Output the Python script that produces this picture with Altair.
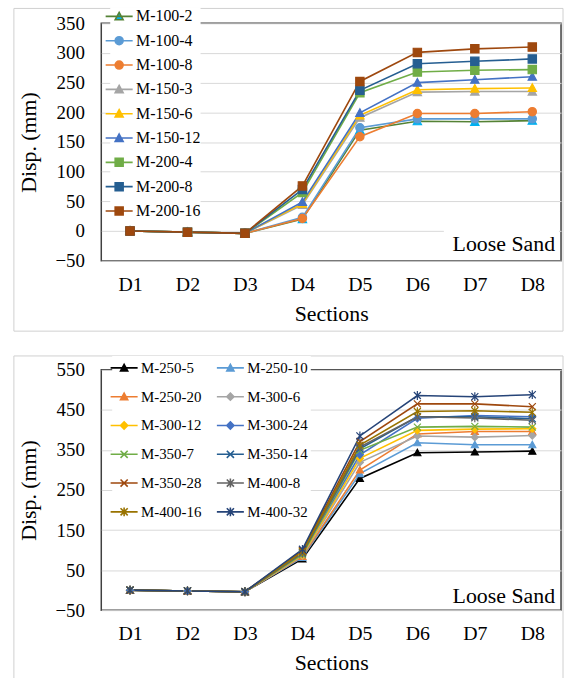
import altair as alt
import pandas as pd

sections = ["D1", "D2", "D3", "D4", "D5", "D6", "D7", "D8"]

# ---------------- top panel data ----------------
top_names = ["M-100-2", "M-100-4", "M-100-8", "M-150-3", "M-150-6",
             "M-150-12", "M-200-4", "M-200-8", "M-200-16"]
m100_2 = [0, -2, -4, 20, 170, 185, 184, 186]
m100_4 = [0, -2, -4, 23, 174, 189, 189, 189]
m100_8 = [0, -2, -4, 21, 159, 198, 198, 201]
m150_3 = [0, -2, -4, 44, 191, 234, 235, 235]
m150_6 = [0, -2, -4, 46, 195, 238, 240, 241]
m150_12 = [0, -2, -4, 49, 199, 250, 255, 260]
m200_4 = [0, -2, -4, 65, 233, 268, 271, 272]
m200_8 = [0, -2, -4, 70, 237, 282, 286, 290]
m200_16 = [0, -2, -4, 76, 252, 301, 307, 310]
top_values = [m100_2, m100_4, m100_8, m150_3, m150_6, m150_12, m200_4, m200_8, m200_16]
top_line_colors = ["#548235", "#5B9BD5", "#ED7D31", "#A5A5A5", "#FFC000",
                   "#4472C4", "#70AD47", "#255E91", "#9E480E"]
top_marker_colors = ["#00B0F0", "#5B9BD5", "#ED7D31", "#A5A5A5", "#FFC000",
                     "#4472C4", "#70AD47", "#255E91", "#9E480E"]
top_kinds = ["tri", "circ", "circ", "tri", "tri", "tri", "sq", "sq", "sq"]
top_ticks = [-50, 0, 50, 100, 150, 200, 250, 300, 350]

# ---------------- bottom panel data ----------------
bot_names = ["M-250-5", "M-250-10", "M-250-20", "M-300-6", "M-300-12", "M-300-24",
             "M-350-7", "M-350-14", "M-350-28", "M-400-8", "M-400-16", "M-400-32"]
m250_5 = [0, -2, -4, 78, 279, 343, 345, 347]
m250_10 = [0, -2, -4, 82, 291, 368, 363, 363]
m250_20 = [0, -2, -4, 84, 300, 390, 396, 396]
m300_6 = [0, -2, -4, 86, 319, 385, 382, 386]
m300_12 = [0, -2, -4, 88, 329, 399, 402, 403]
m300_24 = [0, -2, -4, 92, 338, 429, 436, 433]
m350_7 = [0, -2, -4, 89, 349, 407, 409, 407]
m350_14 = [0, -2, -4, 94, 353, 433, 433, 428]
m350_28 = [0, -2, -4, 99, 371, 465, 465, 458]
m400_8 = [0, -2, -4, 92, 357, 433, 430, 424]
m400_16 = [0, -2, -4, 96, 362, 446, 448, 444]
m400_32 = [0, -2, -4, 102, 385, 486, 483, 488]
bot_values = [m250_5, m250_10, m250_20, m300_6, m300_12, m300_24,
              m350_7, m350_14, m350_28, m400_8, m400_16, m400_32]
bot_colors = ["#000000", "#5B9BD5", "#ED7D31", "#A5A5A5", "#FFC000", "#4472C4",
              "#70AD47", "#255E91", "#9E480E", "#636363", "#997300", "#264478"]
bot_kinds = ["tri", "tri", "tri", "dia", "dia", "dia", "x", "x", "x", "star", "star", "star"]
bot_ticks = [-50, 50, 150, 250, 350, 450, 550]

FONT = "'Liberation Serif', 'Times New Roman', serif"


def marker_path(kind, s):
    if kind == "tri":
        return f"M0,{-s:.3f}L{s:.3f},{0.85*s:.3f}L{-s:.3f},{0.85*s:.3f}Z"
    if kind == "sq":
        return f"M{-s:.3f},{-s:.3f}L{s:.3f},{-s:.3f}L{s:.3f},{s:.3f}L{-s:.3f},{s:.3f}Z"
    if kind == "circ":
        return f"M{s:.3f},0A{s:.3f},{s:.3f},0,1,1,{-s:.3f},0A{s:.3f},{s:.3f},0,1,1,{s:.3f},0Z"
    if kind == "dia":
        return f"M0,{-s:.3f}L{s:.3f},0L0,{s:.3f}L{-s:.3f},0Z"
    if kind == "x":
        return f"M{-s:.3f},{-s:.3f}L{s:.3f},{s:.3f}M{-s:.3f},{s:.3f}L{s:.3f},{-s:.3f}"
    # star: x plus vertical bar
    return (f"M{-s:.3f},{-s:.3f}L{s:.3f},{s:.3f}M{-s:.3f},{s:.3f}L{s:.3f},{-s:.3f}"
            f"M0,{-1.25*s:.3f}L0,{1.25*s:.3f}")


def legend_path(kind, s):
    return "M-1.7,0L1.7,0" + marker_path(kind, s)


def panel(names, values, line_colors, marker_colors, kinds, ydom, yticks, w, h,
          marker_size, legend, legend_s, frame, text_xy, cover):
    rows = []
    for n, vals in zip(names, values):
        for sec, v in zip(sections, vals):
            rows.append({"series": n, "section": sec, "disp": v})
    df = pd.DataFrame(rows)
    one = pd.DataFrame({"a": [0]})

    x = alt.X("section:N", sort=sections, title="Sections",
              axis=alt.Axis(labelAngle=0, labelFont=FONT, titleFont=FONT,
                            labelFontSize=20, titleFontSize=22,
                            labelColor="black", titleColor="black", titleFontWeight="normal",
                            ticks=False, domain=False, grid=False,
                            labelPadding=14, titlePadding=9))
    y = alt.Y("disp:Q", title="Disp. (mm)",
              scale=alt.Scale(domain=ydom, nice=False, zero=False),
              axis=alt.Axis(values=yticks, labelFont=FONT, titleFont=FONT,
                            labelFontSize=19, titleFontSize=22,
                            labelColor="black", titleColor="black", titleFontWeight="normal",
                            ticks=False, domain=False, grid=True,
                            gridColor="#D9D9D9", gridWidth=1,
                            labelPadding=17, titlePadding=15))

    frame_l = alt.Chart(one).mark_rect(fillOpacity=0, stroke="#D0D0D0", strokeWidth=1).encode(
        x=alt.value(frame[0]), x2=alt.value(frame[1]),
        y=alt.value(frame[2]), y2=alt.value(frame[3]))

    base = alt.Chart(df)
    lines = base.mark_line(strokeWidth=1.6).encode(
        x=x, y=y,
        color=alt.Color("series:N", scale=alt.Scale(domain=names, range=line_colors), legend=None))
    points = base.mark_point(filled=True, size=marker_size, strokeWidth=1.2, opacity=1).encode(
        x=x, y=y,
        fill=alt.Fill("series:N", scale=alt.Scale(domain=names, range=marker_colors), legend=None),
        stroke=alt.Stroke("series:N", scale=alt.Scale(domain=names, range=marker_colors), legend=None),
        shape=alt.Shape("series:N", scale=alt.Scale(domain=names, range=[marker_path(k, 1) for k in kinds]),
                        legend=None))

    layers = [frame_l, lines, points]
    if cover is not None:
        layers.append(alt.Chart(one).mark_rect(fill="white").encode(
            x=alt.value(cover[0]), x2=alt.value(cover[1]),
            y=alt.value(cover[2]), y2=alt.value(cover[3])))
    layers.append(alt.Chart(one).mark_text(font=FONT, fontSize=22,
                                           align="right", baseline="middle", color="black").encode(
        x=alt.value(text_xy[0]), y=alt.value(text_xy[1]), text=alt.value("Loose Sand")))

    leg = base.transform_filter("false").mark_point(filled=True, opacity=1).encode(
        fill=alt.Fill("series:N", scale=alt.Scale(domain=names, range=marker_colors), legend=legend),
        stroke=alt.Stroke("series:N", scale=alt.Scale(domain=names, range=line_colors), legend=legend),
        shape=alt.Shape("series:N", scale=alt.Scale(domain=names,
                                                    range=[legend_path(k, legend_s) for k in kinds]),
                        legend=legend))
    layers.append(leg)

    return alt.layer(*layers).resolve_scale(
        fill="independent", stroke="independent", shape="independent", color="independent"
    ).resolve_legend(
        fill="independent", stroke="independent", shape="independent", color="independent"
    ).properties(width=w, height=h)


top_legend = alt.Legend(orient="none", legendX=9, legendY=-16, direction="vertical", columns=1,
                        title=None, fillColor="white", padding=0, symbolSize=256,
                        symbolStrokeWidth=1.6, labelFont=FONT, labelFontSize=16,
                        labelColor="black", labelOffset=8, rowPadding=7.5)
bot_legend = alt.Legend(orient="none", legendX=11, legendY=-14, direction="horizontal", columns=2,
                        title=None, fillColor="white", padding=3, symbolSize=256,
                        symbolStrokeWidth=1.6, labelFont=FONT, labelFontSize=15,
                        labelColor="black", labelOffset=8, rowPadding=12, columnPadding=12)

top = panel(top_names, top_values, top_line_colors, top_marker_colors, top_kinds,
            [-50, 350], top_ticks, 463, 239, 70, top_legend, 0.5,
            (-88, 465, -15, 310), (457, 222), (345, 461, 203, 237))
bottom = panel(bot_names, bot_values, bot_colors, bot_colors, bot_kinds,
               [-50, 550], bot_ticks, 463, 242, 50, bot_legend, 0.45,
               (-88, 465, -14, 330), (457, 228), None)

chart = alt.vconcat(top, bottom, spacing=21).resolve_scale(
    fill="independent", stroke="independent", shape="independent", color="independent"
).resolve_legend(
    fill="independent", stroke="independent", shape="independent", color="independent"
).properties(
    padding={"left": 12, "top": 4, "right": 0, "bottom": 0},
    background="white"
).configure(
    font=FONT
).configure_view(
    stroke="#404040", strokeWidth=1.5
)

chart.save("out.html", embed_options={"renderer": "svg", "actions": False})
